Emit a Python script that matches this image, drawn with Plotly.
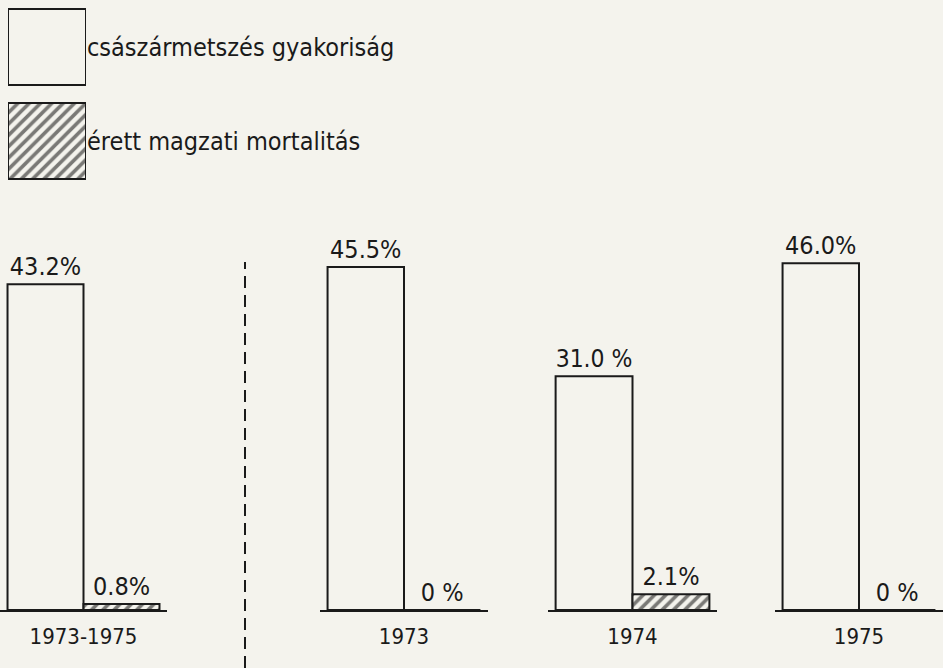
import plotly.graph_objects as go

# ---- data ----
categories = ["1973-1975", "1973", "1974", "1975"]
cesarean_rate = [43.2, 45.5, 31.0, 46.0]      # császármetszés gyakoriság (%)
mortality_rate = [0.8, 0.0, 2.1, 0.0]          # érett magzati mortalitás (%)
cesarean_labels = ["43.2%", "45.5%", "31.0 %", "46.0%"]
mortality_labels = ["0.8%", "0 %", "2.1%", "0 %"]
series_names = ["császármetszés gyakoriság", "érett magzati mortalitás"]

# ---- style ----
W, H = 943, 668
BG = "#f4f3ed"
INK = "#1a1a1a"
FONT = "Liberation Sans Narrow, DejaVu Sans Condensed, sans-serif"
FS = 25
base_px = 610                     # baseline pixel row
px_per_pct = 7.54
yr = base_px / px_per_pct

# subplot (baseline segment) pixel spans
spans = [(0, 167), (320, 488), (548, 717), (775, 943)]

fig = go.Figure()
pattern_hatch = dict(shape="/", fgcolor="#000000", bgcolor=BG, size=8, solidity=0.45)

for i, cat in enumerate(categories):
    xa = "x" if i == 0 else f"x{i+1}"
    fig.add_trace(go.Bar(
        x=[cat], y=[cesarean_rate[i]], xaxis=xa, yaxis="y",
        name=series_names[0], showlegend=False,
        marker=dict(color=BG, line=dict(color=INK, width=2)),
        text=[cesarean_labels[i]], textposition="outside",
        textfont=dict(family=FONT, size=FS, color=INK), cliponaxis=False,
    ))
    fig.add_trace(go.Bar(
        x=[cat], y=[mortality_rate[i]], xaxis=xa, yaxis="y",
        name=series_names[1], showlegend=False,
        marker=dict(color=BG, line=dict(color=INK, width=2), pattern=pattern_hatch),
        text=[mortality_labels[i]], textposition="outside",
        textfont=dict(family=FONT, size=FS, color=INK), cliponaxis=False,
    ))

# legend drawn as a small horizontal-bar subplot
fig.add_trace(go.Bar(
    y=series_names, x=[1, 1], orientation="h", xaxis="x5", yaxis="y2",
    width=0.81, showlegend=False,
    marker=dict(color=BG, line=dict(color=INK, width=2),
                pattern=dict(shape=["", "/"], fgcolor="#000000", bgcolor=BG, size=8, solidity=0.45)),
))

layout = dict(
    width=W, height=H,
    margin=dict(l=0, r=0, t=0, b=H - base_px),
    paper_bgcolor=BG, plot_bgcolor="rgba(0,0,0,0)",
    barmode="group", bargap=0.09, bargroupgap=0,
    font=dict(family=FONT, size=FS, color=INK),
    showlegend=False,
    yaxis=dict(range=[0, yr], visible=False, fixedrange=True),
    yaxis2=dict(domain=[1 - 188 / base_px, 1], anchor="x5", side="right",
                autorange="reversed", showgrid=False, zeroline=False, showline=False,
                ticks="", tickfont=dict(family=FONT, size=FS, color=INK)),
    xaxis5=dict(domain=[8 / W, 86 / W], anchor="y2", range=[0, 1], visible=False),
)
for i, (a, b) in enumerate(spans):
    key = "xaxis" if i == 0 else f"xaxis{i+1}"
    layout[key] = dict(domain=[a / W, b / W], anchor="y", showline=True, linecolor=INK,
                       linewidth=2, showgrid=False, zeroline=False, ticks="",
                       ticklabelstandoff=6,
                       tickfont=dict(family=FONT, size=22, color=INK))
fig.update_layout(**layout)

# dashed separator
fig.add_shape(type="line", xref="paper", yref="paper",
              x0=245 / W, x1=245 / W, y0=-(H - base_px) / base_px, y1=(base_px - 262) / base_px,
              line=dict(color=INK, width=2, dash="12px,7px"))

fig.write_html("out.html", config={"displayModeBar": False},
               post_script="document.body.style.margin='0';document.body.style.background='%s';" % BG)
